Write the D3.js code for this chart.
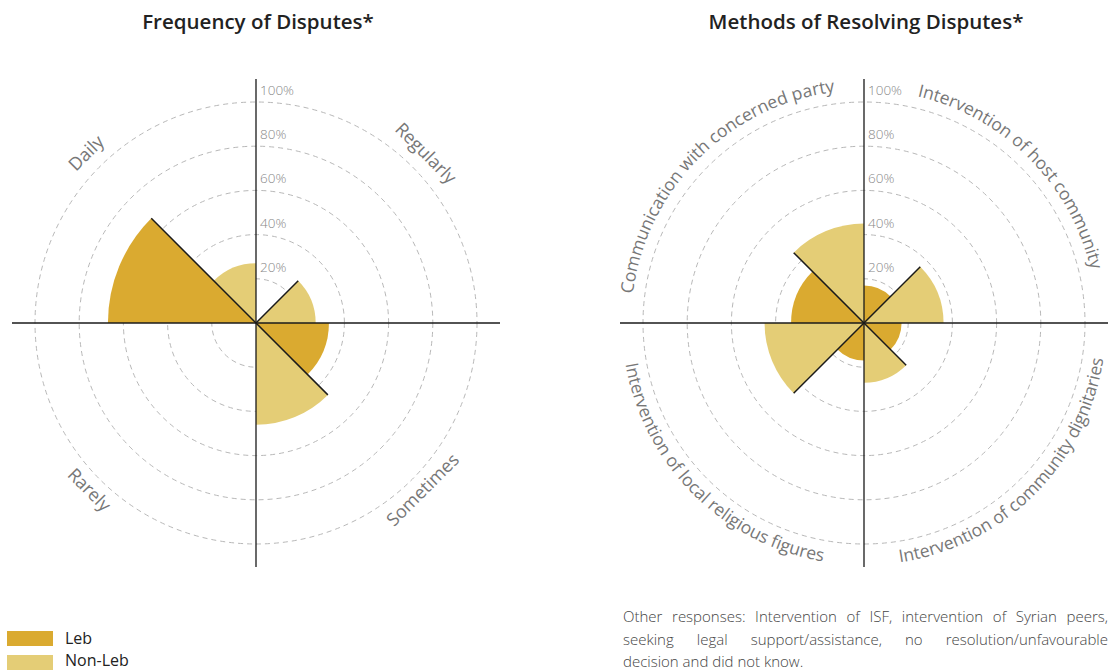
<!DOCTYPE html>
<html>
<head>
<meta charset="utf-8">
<script src="https://cdn.jsdelivr.net/npm/d3@7"></script>
<style>
  body { margin: 0; background: #fff; }
  svg { display: block; }
</style>
</head>
<body>
<svg id="chart" width="1109" height="670"></svg>
<script>
// data (percent)
const freqCategories = ["Daily", "Regularly", "Sometimes", "Rarely"];
const freqLeb = [67, 0, 33, 0];
const freqNonLeb = [27, 27, 46, 0];

const methodCategories = ["Communication with concerned party", "Intervention of host community",
  "Intervention of community dignitaries", "Intervention of local religious figures"];
const methodLeb = [33, 17, 17, 17];
const methodNonLeb = [45, 36, 27, 45];

const tickValues = [20, 40, 60, 80, 100];
const seriesNames = ["Leb", "Non-Leb"];
const seriesColors = ["#DAAA30", "#E4CD76"];

const footLines = [
  "Other responses: Intervention of ISF, intervention of Syrian peers,",
  "seeking legal support/assistance, no resolution/unfavourable",
  "decision and did not know."
];

const FONT = "'Open Sans', Lato, sans-serif";
const deg = Math.PI / 180;
let svg = d3.select("#chart");

let r = d3.scaleLinear().domain([0, 100]).range([0, 221]);
let color = d3.scaleOrdinal().domain(seriesNames).range(seriesColors);
let rAxis = 244;

function drawRose(cx, cy, cats, leb, nonLeb, title, curved, id) {
    let g = svg.append("g").attr("transform", "translate(" + cx + "," + cy + ")");

    //dashed rings
    g.selectAll("circle.ring")
        .data(tickValues)
        .enter()
        .append("circle")
        .attr("class", "ring")
        .attr("r", d => r(d))
        .attr("fill", "none")
        .attr("stroke", "#b8b8b8")
        .attr("stroke-width", 1)
        .attr("stroke-dasharray", "5,4");

    //sectors, each quadrant split Leb / Non-Leb clockwise
    let sectors = [];
    cats.forEach((c, i) => {
        let a0 = (-90 + 90 * i) * deg;
        sectors.push({cat: c, s: "Leb", v: leb[i], a0: a0, a1: a0 + 45 * deg});
        sectors.push({cat: c, s: "Non-Leb", v: nonLeb[i], a0: a0 + 45 * deg, a1: a0 + 90 * deg});
    });
    let arc = d3.arc()
        .innerRadius(0)
        .outerRadius(d => r(d.v))
        .startAngle(d => d.a0)
        .endAngle(d => d.a1);
    g.selectAll("path.sector")
        .data(sectors)
        .enter()
        .append("path")
        .attr("class", "sector")
        .attr("d", arc)
        .attr("fill", d => color(d.s));

    //axes
    g.append("line").attr("x1", -rAxis).attr("x2", rAxis).attr("y1", 0).attr("y2", 0)
        .attr("stroke", "#1a1a1a").attr("stroke-width", 1.3);
    g.append("line").attr("x1", 0).attr("x2", 0).attr("y1", -rAxis).attr("y2", rAxis)
        .attr("stroke", "#1a1a1a").attr("stroke-width", 1.3);

    //diagonal edge between the two sectors of a quadrant
    g.selectAll("line.diag")
        .data(cats.map((c, i) => ({a: (-45 + 90 * i) * deg, v: Math.max(leb[i], nonLeb[i])})))
        .enter()
        .append("line")
        .attr("class", "diag")
        .attr("x1", 0).attr("y1", 0)
        .attr("x2", d => r(d.v) * Math.sin(d.a))
        .attr("y2", d => -r(d.v) * Math.cos(d.a))
        .attr("stroke", "#1a1a1a")
        .attr("stroke-width", 1.5);

    //tick labels
    g.selectAll("text.tick")
        .data(tickValues)
        .enter()
        .append("text")
        .attr("class", "tick")
        .attr("x", 4)
        .attr("y", d => -r(d) - 7)
        .attr("font-family", FONT)
        .attr("font-weight", 300)
        .attr("font-size", 13.5)
        .attr("fill", "#888")
        .text(d => d + "%");

    //category labels
    if (!curved) {
        g.selectAll("text.cat")
            .data(cats)
            .enter()
            .append("text")
            .attr("class", "cat")
            .attr("transform", (d, i) => {
                let a = -45 + 90 * i;
                let top = i < 2;
                let R = top ? 234 : 242;
                let x = R * Math.sin(a * deg), y = -R * Math.cos(a * deg);
                return "translate(" + x + "," + y + ") rotate(" + (top ? a : a - 180) + ")";
            })
            .attr("text-anchor", "middle")
            .attr("font-family", FONT)
            .attr("font-size", 18)
            .attr("fill", "#777")
            .text(d => d);
    } else {
        let pt = (R, a) => [R * Math.sin(a * deg), -R * Math.cos(a * deg)];
        cats.forEach((c, i) => {
            let a0 = -90 + 90 * i, a1 = a0 + 90;
            let top = i < 2;
            let R = top ? 233 : 242;
            let p0, p1, sweep;
            if (top) { p0 = pt(R, a0 - 10); p1 = pt(R, a1 + 10); sweep = 1; }
            else { p0 = pt(R, a1 + 10); p1 = pt(R, a0 - 10); sweep = 0; }
            g.append("path")
                .attr("id", id + "-arc" + i)
                .attr("d", "M" + p0[0] + "," + p0[1] + " A" + R + "," + R + " 0 0 " + sweep + " " + p1[0] + "," + p1[1])
                .attr("fill", "none");
            g.append("text")
                .attr("font-family", FONT)
                .attr("font-size", 17.5)
                .attr("fill", "#777")
                .append("textPath")
                .attr("href", "#" + id + "-arc" + i)
                .attr("startOffset", "50%")
                .attr("text-anchor", "middle")
                .text(c);
        });
    }

    //title
    svg.append("text")
        .attr("x", cx + 2)
        .attr("y", 29)
        .attr("text-anchor", "middle")
        .attr("font-family", FONT)
        .attr("font-weight", 600)
        .attr("font-size", 20.5)
        .attr("fill", "#222")
        .text(title);
}

drawRose(256, 323, freqCategories, freqLeb, freqNonLeb, "Frequency of Disputes*", false, "freq");
drawRose(864, 323, methodCategories, methodLeb, methodNonLeb, "Methods of Resolving Disputes*", true, "meth");

//legend
let legend = svg.append("g").attr("transform", "translate(7,631)");
let item = legend.selectAll("g")
    .data(seriesNames)
    .enter()
    .append("g")
    .attr("transform", (d, i) => "translate(0," + (i * 24) + ")");
item.append("rect")
    .attr("width", 46)
    .attr("height", 15)
    .attr("fill", d => color(d));
item.append("text")
    .attr("x", 58)
    .attr("y", 13)
    .attr("font-family", FONT)
    .attr("font-size", 16)
    .attr("fill", "#222")
    .text(d => d)
    .attr("dy", (d, i) => i == 1 ? -2 : 0);

//justified footnote
let footX = 623, footW = 485;
let foot = svg.append("g");
footLines.forEach((line, li) => {
    let y = 622 + li * 22.5;
    let words = line.split(" ");
    let t = foot.append("text")
        .attr("y", y)
        .attr("font-family", FONT)
        .attr("font-weight", 300)
        .attr("font-size", 15)
        .attr("fill", "#444");
    if (li == footLines.length - 1) {
        t.attr("x", footX).text(line);
        return;
    }
    let spans = words.map(w => t.append("tspan").text(w));
    let widths = spans.map(s => s.node().getComputedTextLength());
    let gap = (footW - d3.sum(widths)) / (words.length - 1);
    let x = footX;
    spans.forEach((s, k) => {
        s.attr("x", x);
        x += widths[k] + gap;
    });
});
</script>
</body>
</html>
